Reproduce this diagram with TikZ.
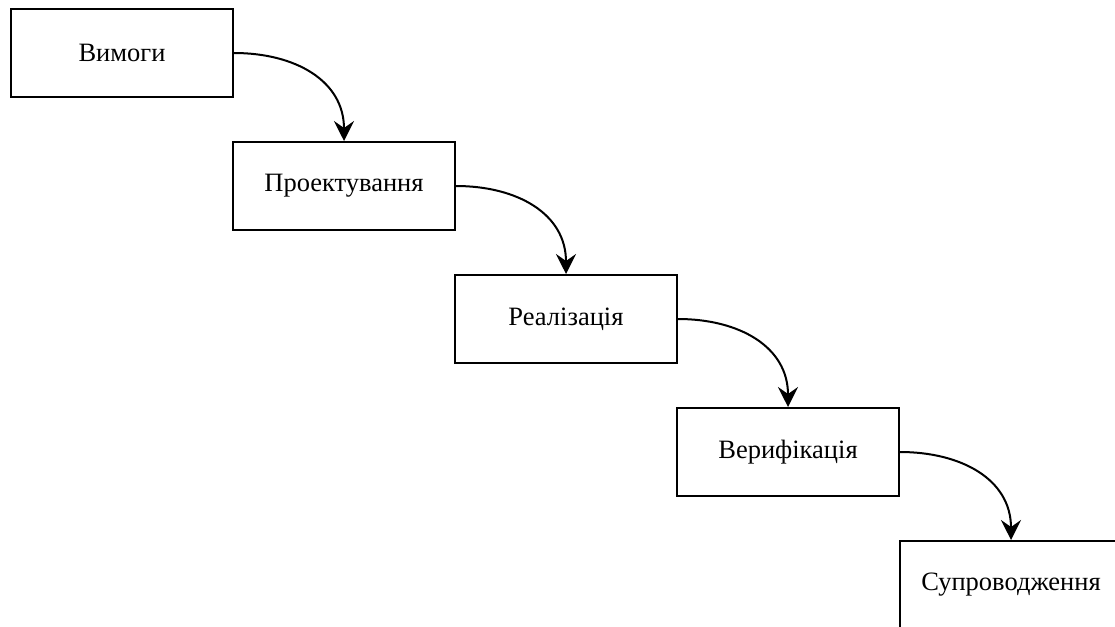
\documentclass[tikz,border=0pt]{standalone}
\usepackage{fontspec}
\setmainfont{Liberation Serif}
\usetikzlibrary{arrows.meta,positioning}

\begin{document}
\begin{tikzpicture}[
  x=1pt,y=-1pt,
  stage/.style={rectangle,draw=black,fill=white,line width=2pt,
                minimum width=222pt,minimum height=88pt,align=center,
                font=\fontsize{26.5}{30}\selectfont},
  flow/.style={-{Stealth[length=20pt,width=20pt,inset=7pt]},line width=2pt}
]
  \clip (0,0) rectangle (1115,626);
  \node[stage] (req)   at (122,53)  {Вимоги};
  \node[stage] (des)   at (344,186) {Проектування};
  \node[stage] (impl)  at (566,319) {Реалізація};
  \node[stage] (ver)   at (788,452) {Верифікація};
  \node[stage] (maint) at (1011,585){Супроводження};
  \draw[flow] (req.east)  to[out=0,in=90,looseness=1.1] (des.north);
  \draw[flow] (des.east)  to[out=0,in=90,looseness=1.1] (impl.north);
  \draw[flow] (impl.east) to[out=0,in=90,looseness=1.1] (ver.north);
  \draw[flow] (ver.east)  to[out=0,in=90,looseness=1.1] (maint.north);
\end{tikzpicture}
\end{document}
